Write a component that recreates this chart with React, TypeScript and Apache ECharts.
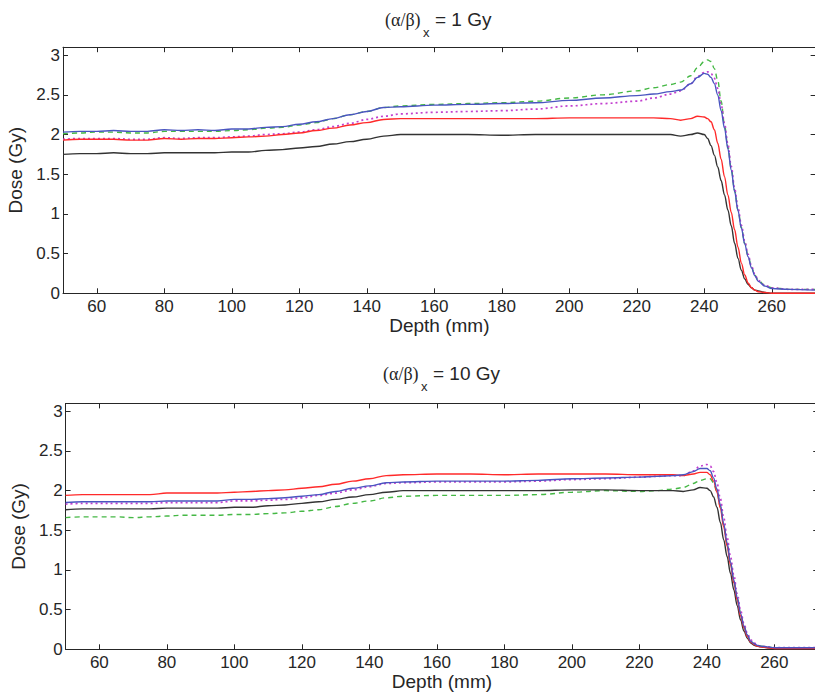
import React, { useEffect, useRef } from "react";
import * as echarts from "echarts";

// Depth (mm) sampling points shared by all curves
const depth = [
  50, 55, 60, 65, 70, 75, 80, 85, 90, 95, 100, 105, 110, 115, 120, 125, 130, 135, 140, 145, 150,
  160, 170, 180, 190, 200, 210, 220,
  225, 230, 233, 236, 238,
  240, 241, 242, 243, 244, 245, 246, 247, 248, 249, 250, 251, 252, 253, 254, 255, 256,
  258, 260, 265, 273,
];

// (α/β)x = 1 Gy
const g1Black = [
  1.75, 1.76, 1.76, 1.77, 1.76, 1.76, 1.77, 1.77, 1.77, 1.77, 1.78, 1.78, 1.8, 1.81, 1.83, 1.85, 1.88, 1.91, 1.94, 1.98, 2.0,
  2.0, 2.0, 1.99, 2.0, 2.0, 2.0, 2.0,
  2.0, 2.0, 1.98, 2.0, 2.02,
  2.0, 1.95, 1.86, 1.74, 1.59, 1.42, 1.24, 1.05, 0.85, 0.63, 0.44, 0.29, 0.18, 0.11, 0.07, 0.04, 0.03,
  0.01, 0.0, 0.0, 0.0,
];
const g1Red = [
  1.93, 1.94, 1.94, 1.94, 1.93, 1.93, 1.95, 1.94, 1.95, 1.95, 1.96, 1.97, 1.98, 2.0, 2.02, 2.05, 2.08, 2.12, 2.15, 2.19, 2.2,
  2.2, 2.2, 2.2, 2.2, 2.21, 2.21, 2.21,
  2.21, 2.2, 2.18, 2.2, 2.23,
  2.22, 2.2, 2.16, 2.06, 1.89, 1.69, 1.47, 1.24, 1.02, 0.8, 0.58, 0.38, 0.23, 0.13, 0.07, 0.04, 0.02,
  0.01, 0.0, 0.0, 0.0,
];
const g1Blue = [
  2.03, 2.04, 2.04, 2.05, 2.04, 2.04, 2.06, 2.05, 2.06, 2.05, 2.07, 2.07, 2.09, 2.1, 2.13, 2.16, 2.2, 2.25, 2.29, 2.34, 2.35,
  2.37, 2.38, 2.39, 2.4, 2.43, 2.46, 2.49,
  2.51, 2.54, 2.56, 2.64, 2.72,
  2.77, 2.76, 2.72, 2.64, 2.5, 2.3, 2.08, 1.82, 1.55, 1.28, 1.04, 0.82, 0.62, 0.46, 0.32, 0.22, 0.15,
  0.09, 0.06, 0.05, 0.04,
];
const g1Green = [
  2.01, 2.02, 2.03, 2.03, 2.02, 2.02, 2.04, 2.04, 2.04, 2.04, 2.05, 2.06, 2.08, 2.09, 2.12, 2.15, 2.2, 2.25, 2.29, 2.34, 2.36,
  2.38, 2.39, 2.4, 2.42, 2.46, 2.5, 2.55,
  2.59, 2.63, 2.66, 2.74, 2.84,
  2.92, 2.94, 2.92, 2.83, 2.68, 2.42, 2.12, 1.85, 1.57, 1.3, 1.05, 0.83, 0.63, 0.47, 0.33, 0.23, 0.16,
  0.1, 0.07, 0.05, 0.05,
];
const g1Magenta = [
  1.94, 1.95, 1.95, 1.95, 1.94, 1.94, 1.96, 1.95, 1.96, 1.96, 1.97, 1.98, 2.0, 2.01, 2.03, 2.06, 2.1, 2.14, 2.19, 2.23, 2.26,
  2.28, 2.29, 2.3, 2.32, 2.36, 2.39, 2.42,
  2.46, 2.51, 2.55, 2.64, 2.73,
  2.78, 2.79, 2.77, 2.71, 2.58, 2.38, 2.14, 1.88, 1.6, 1.32, 1.08, 0.86, 0.66, 0.49, 0.34, 0.24, 0.16,
  0.1, 0.07, 0.05, 0.05,
];

// (α/β)x = 10 Gy
const g10Black = [
  1.76, 1.77, 1.77, 1.77, 1.77, 1.77, 1.78, 1.78, 1.78, 1.78, 1.79, 1.79, 1.81, 1.82, 1.84, 1.86, 1.89, 1.92, 1.95, 1.98, 2.0,
  2.0, 2.0, 2.0, 2.0, 2.01, 2.01, 2.0,
  2.0, 2.0, 1.99, 2.01, 2.04,
  2.03, 2.0, 1.92, 1.79, 1.6, 1.38, 1.17, 0.96, 0.75, 0.55, 0.37, 0.23, 0.14, 0.08, 0.05, 0.04, 0.03,
  0.02, 0.01, 0.01, 0.01,
];
const g10Red = [
  1.94, 1.95, 1.95, 1.95, 1.95, 1.95, 1.97, 1.97, 1.97, 1.97, 1.98, 1.99, 2.0, 2.01, 2.03, 2.05, 2.08, 2.12, 2.15, 2.19, 2.2,
  2.21, 2.21, 2.2, 2.21, 2.21, 2.21, 2.2,
  2.2, 2.2, 2.19, 2.21, 2.23,
  2.23, 2.2, 2.12, 1.98, 1.78, 1.54, 1.3, 1.07, 0.84, 0.62, 0.42, 0.27, 0.16, 0.09, 0.06, 0.04, 0.03,
  0.02, 0.01, 0.01, 0.01,
];
const g10Blue = [
  1.85, 1.86, 1.86, 1.86, 1.86, 1.86, 1.87, 1.87, 1.87, 1.87, 1.89, 1.89, 1.9, 1.91, 1.93, 1.95, 1.99, 2.03, 2.06, 2.1, 2.11,
  2.12, 2.12, 2.12, 2.13, 2.15, 2.16, 2.17,
  2.18, 2.19, 2.2, 2.24, 2.28,
  2.28, 2.25, 2.16, 2.02, 1.82, 1.58, 1.34, 1.1, 0.87, 0.65, 0.45, 0.29, 0.18, 0.1, 0.07, 0.05, 0.04,
  0.03, 0.02, 0.02, 0.02,
];
const g10Green = [
  1.66, 1.67, 1.67, 1.67, 1.66, 1.67, 1.68, 1.69, 1.69, 1.69, 1.7, 1.7, 1.71, 1.72, 1.74, 1.76, 1.8, 1.84, 1.87, 1.91, 1.93,
  1.94, 1.94, 1.94, 1.95, 1.98, 2.0, 1.99,
  2.0, 2.02, 2.04, 2.09, 2.13,
  2.15, 2.15, 2.1, 1.98, 1.8, 1.57, 1.33, 1.09, 0.86, 0.65, 0.45, 0.29, 0.18, 0.1, 0.07, 0.05, 0.04,
  0.03, 0.02, 0.02, 0.02,
];
const g10Magenta = [
  1.83, 1.84, 1.84, 1.84, 1.84, 1.84, 1.85, 1.85, 1.85, 1.85, 1.87, 1.87, 1.88, 1.89, 1.91, 1.94, 1.97, 2.01, 2.05, 2.09, 2.1,
  2.11, 2.11, 2.11, 2.12, 2.14, 2.15, 2.17,
  2.18, 2.19, 2.19, 2.25, 2.31,
  2.33, 2.31, 2.24, 2.1, 1.9, 1.66, 1.41, 1.17, 0.93, 0.7, 0.49, 0.32, 0.2, 0.12, 0.08, 0.05, 0.04,
  0.03, 0.02, 0.02, 0.02,
];

const xTicks = [60, 80, 100, 120, 140, 160, 180, 200, 220, 240, 260];
const yTicks = [0, 0.5, 1, 1.5, 2, 2.5, 3];
const xMin = 50;
const xMax = 273;
const yMax = 3.1;

const FONT = "'Liberation Sans', Arial, Helvetica, sans-serif";
const SERIF = "'Liberation Serif', 'Times New Roman', serif";
const AX = "#262626";

const pairs = (v: number[]) => depth.map((d, i) => [d, v[i]]);

function makeXAxes(gridIndex: number) {
  return [
    {
      type: "value",
      gridIndex,
      position: "bottom",
      min: xMin,
      max: xMax,
      interval: 10,
      axisLine: { show: true, onZero: false, lineStyle: { color: AX, width: 1 } },
      axisTick: { show: true, inside: true, length: 5, customValues: xTicks, lineStyle: { color: AX } },
      axisLabel: {
        show: true,
        customValues: xTicks,
        fontSize: 17,
        fontFamily: FONT,
        color: AX,
        margin: 5,
      },
      splitLine: { show: false },
      name: "Depth (mm)",
      nameLocation: "middle",
      nameGap: 22,
      nameTextStyle: { fontSize: 19, fontFamily: FONT, color: AX },
    },
    {
      type: "value",
      gridIndex,
      position: "top",
      min: xMin,
      max: xMax,
      interval: 10,
      axisLine: { show: true, onZero: false, lineStyle: { color: AX, width: 1 } },
      axisTick: { show: true, inside: true, length: 5, customValues: xTicks, lineStyle: { color: AX } },
      axisLabel: { show: false },
      splitLine: { show: false },
    },
  ];
}

function makeYAxes(gridIndex: number) {
  return [
    {
      type: "value",
      gridIndex,
      position: "left",
      min: 0,
      max: yMax,
      interval: 0.5,
      axisLine: { show: true, onZero: false, lineStyle: { color: AX, width: 1 } },
      axisTick: { show: true, inside: true, length: 5, customValues: yTicks, lineStyle: { color: AX } },
      axisLabel: {
        show: true,
        customValues: yTicks,
        fontSize: 17,
        fontFamily: FONT,
        color: AX,
        margin: 3,
      },
      splitLine: { show: false },
      name: "Dose (Gy)",
      nameLocation: "middle",
      nameGap: 28,
      nameTextStyle: { fontSize: 19, fontFamily: FONT, color: AX },
    },
    {
      type: "value",
      gridIndex,
      position: "right",
      min: 0,
      max: yMax,
      interval: 0.5,
      axisLine: { show: true, onZero: false, lineStyle: { color: AX, width: 1 } },
      axisTick: { show: true, inside: true, length: 5, customValues: yTicks, lineStyle: { color: AX } },
      axisLabel: { show: false },
      splitLine: { show: false },
    },
  ];
}

const styles = {
  green: { color: "#45b845", type: [5, 4], width: 1.4 },
  magenta: { color: "#c23fcf", type: [2, 3], width: 1.7 },
  black: { color: "#333333", type: "solid", width: 1.4 },
  red: { color: "#ff2a2a", type: "solid", width: 1.4 },
  blue: { color: "#4a55c0", type: "solid", width: 1.4 },
};

function makeSeries(
  axisBase: number,
  data: { black: number[]; red: number[]; blue: number[]; green: number[]; magenta: number[] }
) {
  const order: (keyof typeof styles)[] = ["green", "magenta", "black", "red", "blue"];
  return order.map((k) => ({
    type: "line",
    name: k,
    xAxisIndex: axisBase,
    yAxisIndex: axisBase,
    data: pairs(data[k]),
    showSymbol: false,
    symbol: "none",
    smooth: 0.35,
    smoothMonotone: "x",
    lineStyle: styles[k],
    itemStyle: { color: styles[k].color },
    z: 3,
  }));
}

function titleGroup(y0: number, label: string, x0: number) {
  return [
    {
      type: "text",
      x: x0,
      y: y0 + 1,
      style: { text: "(α/β)", font: `18px ${SERIF}`, fill: AX, textAlign: "left", textVerticalAlign: "middle", verticalAlign: "middle" },
    },
    {
      type: "text",
      x: x0 + 38,
      y: y0 + 13,
      style: { text: "x", font: `13px ${FONT}`, fill: AX, textAlign: "left", textVerticalAlign: "middle", verticalAlign: "middle" },
    },
    {
      type: "text",
      x: x0 + 50,
      y: y0,
      style: { text: label, font: `19px ${FONT}`, fill: AX, textAlign: "left", textVerticalAlign: "middle", verticalAlign: "middle" },
    },
  ];
}

export default function App() {
  const ref = useRef<HTMLDivElement>(null);
  useEffect(() => {
    if (!ref.current) return;
    const chart = echarts.init(ref.current, undefined, { renderer: "svg" });
    const gridW = (xMax - xMin) * 3.375;
    const option: any = {
      animation: false,
      backgroundColor: "#ffffff",
      grid: [
        { left: 63, top: 47.2, width: gridW, height: 246.1, containLabel: false, outerBoundsMode: "none" },
        { left: 65.6, top: 403.4, width: gridW, height: 245.9, containLabel: false, outerBoundsMode: "none" },
      ],
      xAxis: [...makeXAxes(0), ...makeXAxes(1)],
      yAxis: [...makeYAxes(0), ...makeYAxes(1)],
      series: [
        ...makeSeries(0, { black: g1Black, red: g1Red, blue: g1Blue, green: g1Green, magenta: g1Magenta }),
        ...makeSeries(2, { black: g10Black, red: g10Red, blue: g10Blue, green: g10Green, magenta: g10Magenta }),
      ],
      graphic: [...titleGroup(19, "= 1 Gy", 385), ...titleGroup(373, "= 10 Gy", 383)],
    };
    chart.setOption(option);
    return () => chart.dispose();
  }, []);
  return (
    <div
      ref={ref}
      style={{ position: "fixed", left: 0, top: 0, width: 815, height: 693, background: "#fff" }}
    />
  );
}
